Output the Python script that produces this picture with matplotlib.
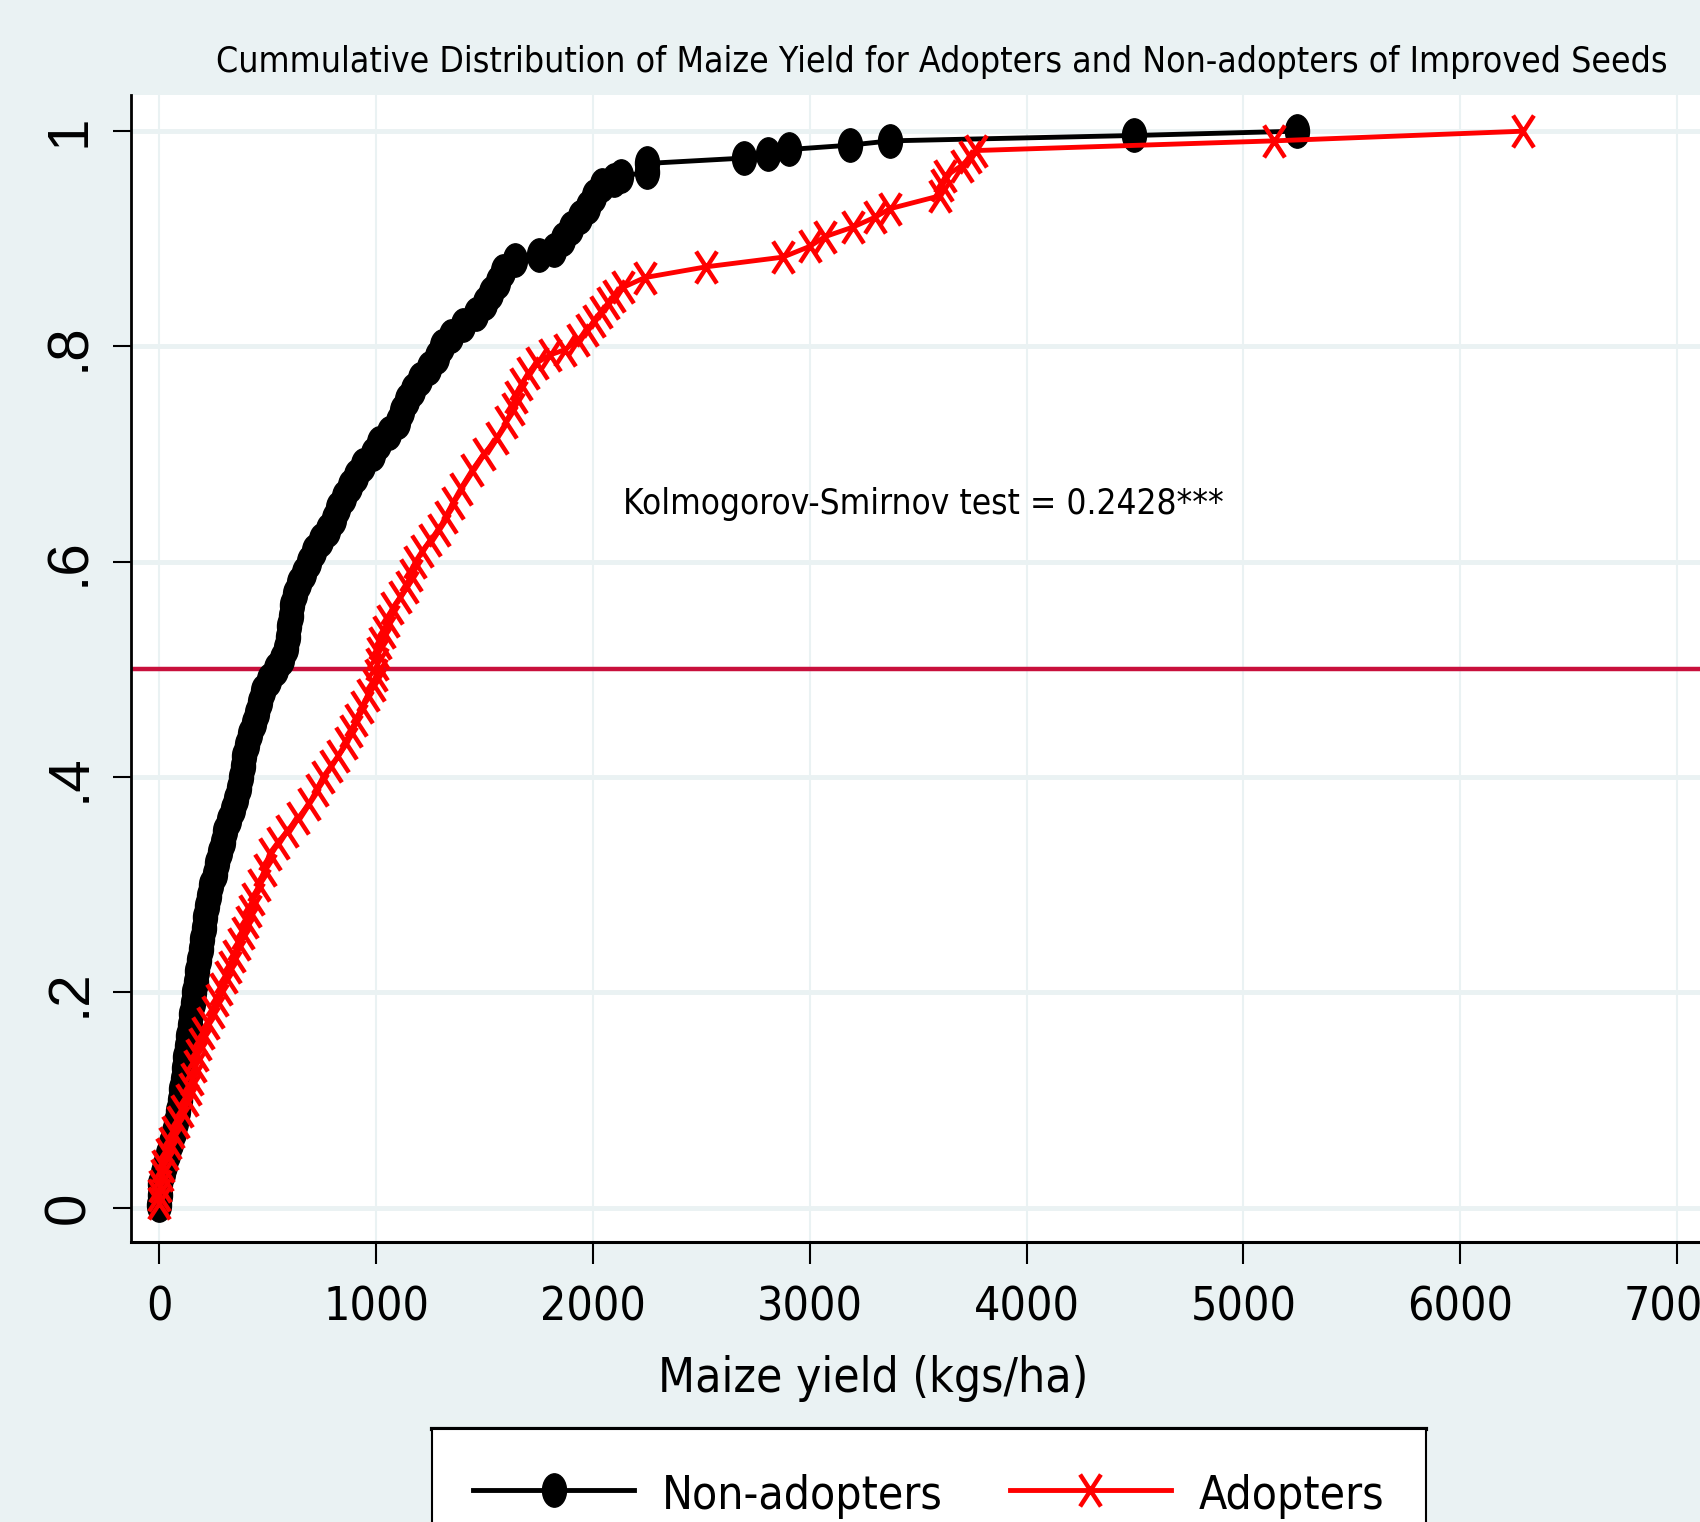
import matplotlib
matplotlib.use('Agg')
import matplotlib.pyplot as plt
from matplotlib import font_manager
from matplotlib.path import Path
from matplotlib.transforms import Affine2D
from matplotlib.lines import Line2D

# ── Data ──────────────────────────────────────
non_adopt_yield = [0, 2, 5, 15, 26, 40, 55, 68, 78, 88, 95, 100, 107, 112, 120, 127,
                   133, 140, 148, 155, 160, 168, 175, 182, 190, 198, 205, 212, 220, 230,
                   240, 255, 268, 280, 292, 302, 320, 340, 355, 365, 377, 385, 392, 405,
                   420, 435, 450, 462, 480, 505, 540, 565, 585, 595, 600, 605, 612, 625,
                   645, 665, 690, 715, 745, 780, 805, 825, 850, 880, 905, 940, 985, 1015,
                   1060, 1100, 1120, 1140, 1170, 1200, 1245, 1280, 1305, 1345, 1400, 1460,
                   1500, 1530, 1560, 1585, 1640, 1750, 1820, 1860, 1900, 1940, 1975, 2005,
                   2040, 2097, 2130, 2248, 2248, 2695, 2805, 2905, 3185, 3370, 4495, 5245]
non_adopt_cdf = [0.003, 0.012, 0.022, 0.032, 0.04, 0.05, 0.06, 0.07, 0.08, 0.09, 0.10, 0.11,
                 0.12, 0.13, 0.14, 0.15, 0.16, 0.17, 0.18, 0.19, 0.20, 0.21, 0.22, 0.23, 0.24,
                 0.25, 0.26, 0.27, 0.28, 0.29, 0.30, 0.31, 0.32, 0.33, 0.34, 0.35, 0.36, 0.37,
                 0.38, 0.39, 0.40, 0.41, 0.42, 0.43, 0.44, 0.45, 0.46, 0.47, 0.48, 0.49, 0.50,
                 0.51, 0.52, 0.53, 0.54, 0.55, 0.56, 0.57, 0.58, 0.59, 0.60, 0.61, 0.62, 0.63,
                 0.64, 0.65, 0.66, 0.67, 0.68, 0.69, 0.70, 0.71, 0.72, 0.73, 0.74, 0.75, 0.76,
                 0.77, 0.78, 0.79, 0.80, 0.81, 0.82, 0.83, 0.84, 0.85, 0.86, 0.87, 0.88, 0.885,
                 0.89, 0.90, 0.91, 0.92, 0.93, 0.94, 0.95, 0.955, 0.958, 0.962, 0.97, 0.975,
                 0.979, 0.983, 0.987, 0.991, 0.996, 1.0]

adopt_yield = [0, 0, 3, 10, 18, 33, 48, 64, 85, 106, 126, 140, 152, 164, 175, 187, 200, 225,
               245, 264, 285, 305, 325, 345, 366, 386, 402, 418, 432, 460, 485, 508, 545, 590,
               640, 690, 725, 754, 790, 825, 860, 885, 908, 935, 960, 990, 1000, 1005, 1010,
               1018, 1035, 1055, 1075, 1110, 1142, 1160, 1180, 1212, 1250, 1290, 1320, 1354,
               1390, 1442, 1496, 1558, 1600, 1630, 1645, 1670, 1700, 1743, 1800, 1870, 1930,
               1973, 2005, 2035, 2070, 2097, 2140, 2239, 2522, 2876, 3000, 3070, 3200, 3300,
               3370, 3600, 3610, 3625, 3700, 3740, 3765, 5140, 6290]
adopt_cdf = [0.004, 0.012, 0.02, 0.03, 0.039, 0.05, 0.06, 0.07, 0.08, 0.09, 0.10, 0.11, 0.12,
             0.132, 0.142, 0.152, 0.162, 0.172, 0.182, 0.193, 0.203, 0.214, 0.224, 0.234,
             0.245, 0.255, 0.265, 0.276, 0.287, 0.300, 0.314, 0.329, 0.339, 0.350, 0.362,
             0.375, 0.388, 0.40, 0.41, 0.42, 0.432, 0.443, 0.453, 0.465, 0.476, 0.486, 0.495,
             0.505, 0.515, 0.525, 0.535, 0.545, 0.557, 0.567, 0.577, 0.588, 0.60, 0.61, 0.62,
             0.63, 0.642, 0.655, 0.668, 0.685, 0.70, 0.715, 0.73, 0.742, 0.753, 0.765, 0.775,
             0.785, 0.792, 0.797, 0.806, 0.815, 0.824, 0.832, 0.840, 0.847, 0.855, 0.864,
             0.874, 0.883, 0.893, 0.902, 0.911, 0.92, 0.928, 0.94, 0.95, 0.958, 0.968, 0.976,
             0.982, 0.991, 1.0]

x_ticks = [0, 1000, 2000, 3000, 4000, 5000, 6000, 7000]
y_ticks = [0, 0.2, 0.4, 0.6, 0.8, 1]
y_ticklabels = ['0', '.2', '.4', '.6', '.8', '1']
median_line = 0.5
ks_label = 'Kolmogorov-Smirnov test = 0.2428***'
title = 'Cummulative Distribution of Maize Yield for Adopters and Non-adopters of Improved Seeds'

# ── Fonts ─────────────────────────────────────
names = {f.name for f in font_manager.fontManager.ttflist}
if 'Liberation Sans Narrow' in names:
    NARROW, NARROW_STRETCH = 'Liberation Sans Narrow', 'normal'
else:
    NARROW, NARROW_STRETCH = 'DejaVu Sans', 'condensed'
REGULAR = 'Liberation Sans' if 'Liberation Sans' in names else 'DejaVu Sans'

BG = '#eaf2f3'
W, H = 1700, 1522

# ── Markers (Stata-like, squashed horizontally) ──
ellipse = Path.unit_circle().transformed(Affine2D().scale(0.72, 1.0))
cross = Path([(-0.65, -1), (0.65, 1), (-0.65, 1), (0.65, -1)],
             [Path.MOVETO, Path.LINETO, Path.MOVETO, Path.LINETO])

fig = plt.figure(figsize=(W / 100, H / 100), dpi=100, facecolor=BG)
ax = fig.add_axes([131.2 / W, 1 - 1242 / H, 1 - 131.2 / W, (1242 - 95) / H])
ax.set_facecolor('white')

ax.set_xlim(-130, 7106)
ax.set_ylim(-0.0318, 1.0336)

ax.set_axisbelow(True)
ax.grid(axis='y', color=BG, lw=3.5)
ax.grid(axis='x', color=BG, lw=1.5)

ax.axhline(median_line, color='#c8103c', lw=3.2, zorder=1)

ax.plot(non_adopt_yield, non_adopt_cdf, color='black', lw=3.5, marker=ellipse, ms=24,
        mfc='black', mec='black', zorder=3, label='Non-adopters')
ax.plot(adopt_yield, adopt_cdf, color='red', lw=3.5, marker=cross, ms=23,
        mfc='none', mec='red', mew=3.2, zorder=4, label='Adopters')

ks_txt = ax.text(2138, 0.654, ks_label, ha='left', va='center', fontsize=32,
                 family=NARROW, stretch=NARROW_STRETCH)

for side in ['top', 'right']:
    ax.spines[side].set_visible(False)
ax.spines['left'].set_linewidth(2)
ax.spines['bottom'].set_linewidth(2.2)

ax.set_xticks(x_ticks)
ax.set_yticks(y_ticks, y_ticklabels)
ax.tick_params(axis='x', length=16, width=1.5, pad=15, labelsize=39)
ax.tick_params(axis='y', length=13, width=1.5, pad=12, labelsize=42, labelrotation=90)
for lbl in ax.get_xticklabels():
    lbl.set_family(NARROW)
    lbl.set_stretch(NARROW_STRETCH)
for lbl in ax.get_yticklabels():
    lbl.set_family(REGULAR)
    lbl.set_va('center')

xlab = ax.set_xlabel('Maize yield (kgs/ha)', fontsize=40, family=NARROW,
                     stretch=NARROW_STRETCH, va='center')
ax.xaxis.set_label_coords((873 - 131.2) / (W - 131.2), (1242 - 1378) / (1242 - 95))

ttl = ax.set_title(title, fontsize=32, family=NARROW, stretch=NARROW_STRETCH, va='center',
                   x=(942 - 131.2) / (W - 131.2), y=1 + (95 - 62) / (1242 - 95), pad=0)

leg = fig.legend(loc='upper left', bbox_to_anchor=(431.7 / W, 1 - 1428.7 / H), ncol=2,
                 numpoints=1, handlelength=2.9, handletextpad=0.5, columnspacing=1.2,
                 borderpad=0.75, borderaxespad=0, fancybox=False, framealpha=1,
                 edgecolor='black', markerscale=1.0,
                 prop={'family': NARROW, 'stretch': NARROW_STRETCH, 'size': 40})
leg.get_frame().set_linewidth(1.5)

# ── Fit text widths to the reference (no narrow font available) ──
fig.canvas.draw()
r = fig.canvas.get_renderer()
for t, target in [(ttl, 1457), (xlab, 430), (ks_txt, 600)]:
    w = t.get_window_extent(r).width
    t.set_fontsize(t.get_fontsize() * target / w)

w = ax.get_xticklabels()[1].get_window_extent(r).width
ax.tick_params(axis='x', labelsize=39 * 106 / w)

w = leg.get_texts()[0].get_window_extent(r).width
for t in leg.get_texts():
    t.set_fontsize(40 * 280 / w)

# thicker top edge of the legend box
fig.canvas.draw()
bb = leg.get_window_extent()
fig.add_artist(Line2D([bb.x0 / W, bb.x1 / W], [bb.y1 / H, bb.y1 / H],
                      transform=fig.transFigure, color='black', lw=3))

fig.savefig('out.png', dpi=100, facecolor=BG)
